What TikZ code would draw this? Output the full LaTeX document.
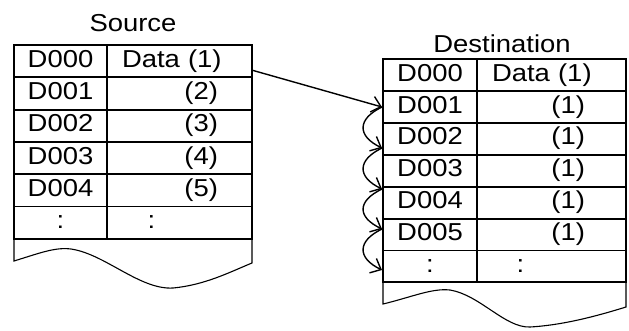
\documentclass[tikz,border=0pt]{standalone}
\usepackage{fontspec}
\setmainfont{Liberation Sans}[FakeStretch=1.12]
\usepackage{tikz}
\usetikzlibrary{arrows.meta,positioning}

\begin{document}
\begin{tikzpicture}[x=1pt,y=-1pt,
  txt/.style={font=\fontsize{24.5}{28}\selectfont},
  cell/.style={txt,draw,line width=1.8pt,inner sep=0pt,outer sep=0pt,
               text height=17pt,text depth=5pt},
  srca/.style={cell,minimum width=93pt,minimum height=32.3pt},
  srcb/.style={srca,minimum width=145pt,text width=77pt,align=right},
  srchead/.style={srcb,text width=115pt,align=left},
  srcdots/.style={srcb,text width=64pt,align=left},
  dsta/.style={cell,minimum width=94pt,minimum height=31.86pt},
  dstb/.style={dsta,minimum width=149pt,text width=67pt,align=right},
  dsthead/.style={dstb,text width=119pt,align=left},
  dstdots/.style={dstb,text width=70pt,align=left},
  wave/.style={line width=1.1pt},
  arr/.style={line width=1.4pt,-{Straight Barb[length=9pt,width=16pt]}},
]
\useasboundingbox (0,0) rectangle (629,330);

% source table
\node[txt] (srclbl) at (133,23) {Source};
\node[srca] (s0a) at (60.5,61.15) {D000};
\node[srca,below=0pt of s0a] (s1a) {D001};
\node[srca,below=0pt of s1a] (s2a) {D002};
\node[srca,below=0pt of s2a] (s3a) {D003};
\node[srca,below=0pt of s3a] (s4a) {D004};
\node[srca,below=0pt of s4a] (s5a) {:};
\node[srchead,right=0pt of s0a] (s0b) {Data (1)};
\node[srcb,right=0pt of s1a] (s1b) {(2)};
\node[srcb,right=0pt of s2a] (s2b) {(3)};
\node[srcb,right=0pt of s3a] (s3b) {(4)};
\node[srcb,right=0pt of s4a] (s4b) {(5)};
\node[srcdots,right=0pt of s5a] (s5b) {:};
\draw[wave] (s5a.south west) -- (14,261)
  .. controls (40,253) and (55,247) .. (71,249)
  .. controls (105,254) and (140,290) .. (173,288)
  .. controls (205,285) and (230,272) .. (252,263) -- (s5b.south east);

% destination table
\node[txt] (dstlbl) at (502,44) {Destination};
\node[dsta] (d0a) at (430,75.23) {D000};
\node[dsta,below=0pt of d0a] (d1a) {D001};
\node[dsta,below=0pt of d1a] (d2a) {D002};
\node[dsta,below=0pt of d2a] (d3a) {D003};
\node[dsta,below=0pt of d3a] (d4a) {D004};
\node[dsta,below=0pt of d4a] (d5a) {D005};
\node[dsta,below=0pt of d5a] (d6a) {:};
\node[dsthead,right=0pt of d0a] (d0b) {Data (1)};
\node[dstb,right=0pt of d1a] (d1b) {(1)};
\node[dstb,right=0pt of d2a] (d2b) {(1)};
\node[dstb,right=0pt of d3a] (d3b) {(1)};
\node[dstb,right=0pt of d4a] (d4b) {(1)};
\node[dstb,right=0pt of d5a] (d5b) {(1)};
\node[dstdots,right=0pt of d6a] (d6b) {:};
\draw[wave] (d6a.south west) -- (383,304)
  .. controls (412,297) and (432,288) .. (450,290)
  .. controls (480,295) and (505,328) .. (530,327)
  .. controls (565,325) and (600,315) .. (626,307) -- (d6b.south east);

% shift arrows
\coordinate (t1) at (382,107);
\coordinate (t2) at (382,148);
\coordinate (t3) at (382,189);
\coordinate (t4) at (382,229);
\coordinate (t5) at (382,270);
\draw[arr] ([yshift=-9pt]s0b.east) -- (t1);
\draw[arr] (t1) .. controls +(-25,12) and +(-25,-12) .. (t2);
\draw[arr] (t2) .. controls +(-25,12) and +(-25,-12) .. (t3);
\draw[arr] (t3) .. controls +(-25,12) and +(-25,-12) .. (t4);
\draw[arr] (t4) .. controls +(-25,12) and +(-25,-12) .. (t5);
\end{tikzpicture}
\end{document}
